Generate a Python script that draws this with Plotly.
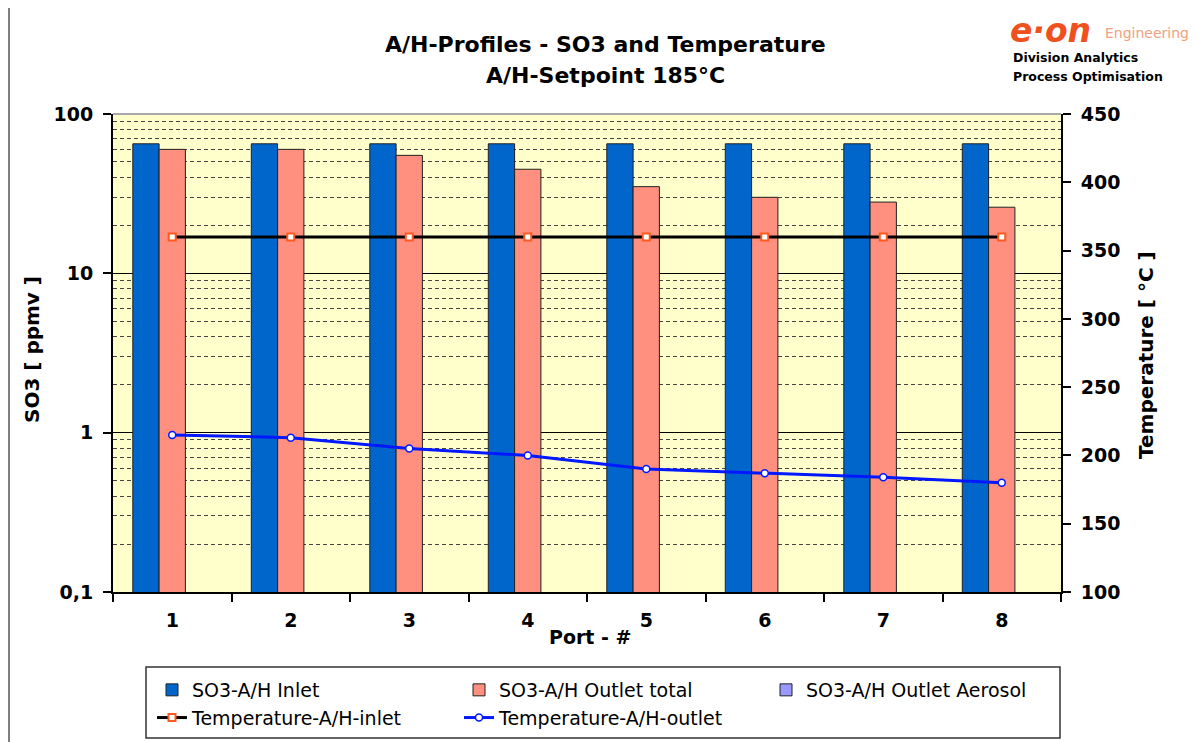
import plotly.graph_objects as go

ports = ["1", "2", "3", "4", "5", "6", "7", "8"]
so3_inlet = [65, 65, 65, 65, 65, 65, 65, 65]
so3_outlet_total = [60, 60, 55, 45, 35, 30, 28, 26]
so3_outlet_aerosol = [None, None, None, None, None, None, None, None]
temp_inlet = [360, 360, 360, 360, 360, 360, 360, 360]
temp_outlet = [215, 213, 205, 200, 190, 187, 184, 180]

y_tickvals = [0.1, 1, 10, 100]
y_ticktext = ["0,1", "1", "10", "100"]
y_minor = [m * 10 ** e for e in (-1, 0, 1) for m in range(2, 10)]

# page body has an 8px margin; work in viewport pixels and convert
OFF = 8
W, H = 1202 - OFF, 742 - OFF
L, R, T, B = 113 - OFF, 1061 - OFF, 114 - OFF, 592 - OFF


def px(x):
    return (x - OFF - L) / (R - L)


def py(y):
    return (B - (y - OFF)) / (B - T)


FONT = "DejaVu Sans"

fig = go.Figure()
bar_line = dict(color="#222222", width=1)
fig.add_trace(go.Bar(x=ports, y=so3_inlet, name="SO3-A/H Inlet",
                     marker=dict(color="#0066CC", line=bar_line),
                     width=0.222, offset=-0.333))
fig.add_trace(go.Bar(x=ports, y=so3_outlet_total, name="SO3-A/H Outlet total",
                     marker=dict(color="#FF8F7E", line=bar_line),
                     width=0.222, offset=-0.111))
fig.add_trace(go.Bar(x=ports, y=so3_outlet_aerosol, name="SO3-A/H Outlet Aerosol",
                     marker=dict(color="#9999FF", line=bar_line),
                     width=0.222, offset=0.111))
fig.add_trace(go.Scatter(x=ports, y=temp_inlet, yaxis="y2", mode="lines+markers",
                         name="Temperature-A/H-inlet",
                         line=dict(color="black", width=3),
                         marker=dict(symbol="square", size=7, color="white",
                                     line=dict(color="#FF5A1E", width=2))))
fig.add_trace(go.Scatter(x=ports, y=temp_outlet, yaxis="y2", mode="lines+markers",
                         name="Temperature-A/H-outlet",
                         line=dict(color="#0018FF", width=3),
                         marker=dict(symbol="circle", size=7, color="white",
                                     line=dict(color="#0018FF", width=1.5))))

fig.update_layout(
    width=W, height=H,
    margin=dict(l=L, r=W - R, t=T, b=H - B, autoexpand=False),
    paper_bgcolor="white",
    plot_bgcolor="#FFFFCC",
    font=dict(family=FONT, color="black"),
    barmode="group",
    showlegend=True,
    legend=dict(orientation="h", x=px(152), y=py(671), xanchor="left", yanchor="top",
                bgcolor="rgba(0,0,0,0)", borderwidth=0,
                font=dict(family=FONT, size=19, color="black"),
                entrywidth=262, entrywidthmode="pixels", traceorder="normal"),
    xaxis=dict(type="category", showline=True, linecolor="black", linewidth=2,
               ticks="outside", ticklen=8, tickwidth=2, tickcolor="black",
               tickson="boundaries", showgrid=False,
               tickfont=dict(family=FONT, size=19, color="black", weight="bold"),
               ticklabelstandoff=10),
    yaxis=dict(type="log", range=[-1, 2], showline=True, linecolor="black", linewidth=2,
               tickmode="array", tickvals=y_tickvals, ticktext=y_ticktext,
               ticks="outside", ticklen=8, tickwidth=2, tickcolor="black",
               showgrid=True, gridcolor="black", gridwidth=1,
               minor=dict(tickmode="array", tickvals=y_minor, showgrid=True,
                          gridcolor="#444444", gridwidth=1, griddash="4px,3px", ticks=""),
               tickfont=dict(family=FONT, size=19, color="black", weight="bold"),
               ticklabelstandoff=6, zeroline=False),
    yaxis2=dict(overlaying="y", side="right", range=[100, 450], dtick=50, tick0=100,
                showline=True, linecolor="black", linewidth=2,
                ticks="outside", ticklen=8, tickwidth=2, tickcolor="black",
                showgrid=False, zeroline=False,
                tickfont=dict(family=FONT, size=19, color="black", weight="bold"),
                ticklabelstandoff=6),
)

ann = [
    dict(text="A/H-Profiles - SO3 and Temperature", x=px(605), y=py(44), size=22, bold=True),
    dict(text="A/H-Setpoint 185°C", x=px(605), y=py(75), size=22, bold=True),
    dict(text="Port - #", x=px(590), y=py(637), size=19, bold=True),
]
annotations = []
for a in ann:
    annotations.append(dict(text=a["text"], x=a["x"], y=a["y"], xref="paper", yref="paper",
                            xanchor="center", yanchor="middle", showarrow=False,
                            font=dict(family=FONT, size=a["size"], color="black",
                                      weight="bold" if a["bold"] else "normal")))
annotations.append(dict(text="SO3 [ ppmv ]", x=px(32), y=py(350), xref="paper", yref="paper",
                        textangle=-90, showarrow=False, xanchor="center", yanchor="middle",
                        font=dict(family=FONT, size=20, color="black", weight="bold")))
annotations.append(dict(text="Temperature [ °C ]", x=px(1146), y=py(355), xref="paper", yref="paper",
                        textangle=-90, showarrow=False, xanchor="center", yanchor="middle",
                        font=dict(family=FONT, size=20, color="black", weight="bold")))
# logo texts
annotations.append(dict(text="e·on", x=px(1008), y=py(30), xref="paper", yref="paper",
                        xanchor="left", yanchor="middle", showarrow=False,
                        font=dict(family=FONT, size=33, color="#F0501E", weight="bold", style="italic")))
annotations.append(dict(text="Engineering", x=px(1103), y=py(33), xref="paper", yref="paper",
                        xanchor="left", yanchor="middle", showarrow=False,
                        font=dict(family=FONT, size=14, color="#F3A080")))
annotations.append(dict(text="Division Analytics", x=px(1011), y=py(58), xref="paper", yref="paper",
                        xanchor="left", yanchor="middle", showarrow=False,
                        font=dict(family=FONT, size=12.5, color="black", weight="bold")))
annotations.append(dict(text="Process Optimisation", x=px(1011), y=py(77), xref="paper", yref="paper",
                        xanchor="left", yanchor="middle", showarrow=False,
                        font=dict(family=FONT, size=12.5, color="black", weight="bold")))
fig.update_layout(annotations=annotations)

fig.update_layout(shapes=[
    dict(type="line", xref="paper", yref="paper", x0=0, x1=1, y0=1, y1=1,
         line=dict(color="#A8A8A8", width=2)),
    dict(type="rect", xref="paper", yref="paper", x0=px(146), x1=px(1060), y0=py(667), y1=py(738),
         line=dict(color="#333333", width=1.5), fillcolor="rgba(0,0,0,0)"),
    dict(type="line", xref="paper", yref="paper", x0=px(9), x1=px(9), y0=py(8), y1=py(742),
         line=dict(color="#555555", width=1.5)),
])

fig.write_html("out.html")
